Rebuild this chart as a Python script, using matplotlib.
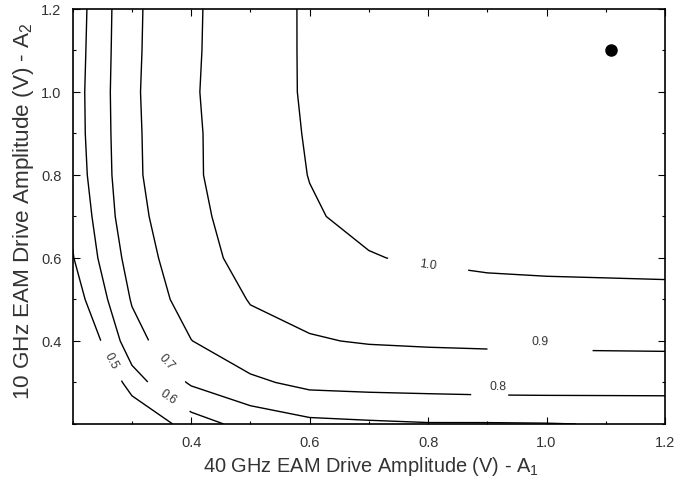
import matplotlib
matplotlib.use('Agg')
import matplotlib.pyplot as plt
from matplotlib.ticker import MultipleLocator

# ---- data ----
a1_grid = [0.2, 0.3, 0.4, 0.5, 0.6, 0.7, 0.8, 0.9, 1.0, 1.1, 1.2]   # 40 GHz drive (V)
a2_grid = [0.2, 0.3, 0.4, 0.5, 0.6, 0.7, 0.8, 0.9, 1.0, 1.1, 1.2]   # 10 GHz drive (V)
# rows follow a2_grid, columns follow a1_grid
quality = [
    [0.100, 0.379, 0.555, 0.637, 0.6765, 0.6867, 0.695, 0.695, 0.697, 0.703, 0.710],
    [0.199, 0.557, 0.713, 0.780, 0.827, 0.8348, 0.8388, 0.845, 0.8463, 0.8446, 0.8424],
    [0.354, 0.6607, 0.798, 0.8772, 0.8938, 0.9057, 0.9108, 0.9132, 0.9151, 0.917, 0.9192],
    [0.4448, 0.708, 0.8504, 0.9034, 0.9282, 0.955, 0.960, 0.966, 0.970, 0.972, 0.975],
    [0.4951, 0.7423, 0.8708, 0.9246, 0.975, 0.9968, 1.0076, 1.019, 1.0236, 1.0258, 1.0271],
    [0.5173, 0.7718, 0.869, 0.9576, 0.9943, 1.0146, 1.028, 1.037, 1.043, 1.046, 1.047],
    [0.5408, 0.7813, 0.8825, 0.9665, 1.0014, 1.025, 1.040, 1.050, 1.056, 1.059, 1.059],
    [0.551, 0.782, 0.888, 0.948, 1.008, 1.030, 1.046, 1.057, 1.064, 1.068, 1.067],
    [0.553, 0.7845, 0.8914, 0.950, 1.0131, 1.033, 1.050, 1.062, 1.070, 1.074, 1.073],
    [0.548, 0.782, 0.888, 0.954, 1.0125, 1.034, 1.052, 1.065, 1.073, 1.078, 1.076],
    [0.5431, 0.7803, 0.8868, 0.9535, 1.0127, 1.034, 1.052, 1.065, 1.073, 1.077, 1.075],
]
levels = [0.5, 0.6, 0.7, 0.8, 0.9, 1.0]
optimum_a1 = [1.109]
optimum_a2 = [1.101]
tick_values = [0.4, 0.6, 0.8, 1.0, 1.2]
tick_labels = ['0.4', '0.6', '0.8', '1.0', '1.2']
xlabel_text = '40 GHz EAM Drive Amplitude (V) - A$_1$'
ylabel_text = '10 GHz EAM Drive Amplitude (V) - A$_2$'

# ---- style ----
plt.rcParams['font.family'] = ['Liberation Sans', 'DejaVu Sans']
plt.rcParams['mathtext.fontset'] = 'custom'
plt.rcParams['mathtext.rm'] = 'Liberation Sans'
plt.rcParams['mathtext.it'] = 'Liberation Sans:italic'
plt.rcParams['mathtext.bf'] = 'Liberation Sans:bold'

fig = plt.figure(figsize=(6.77, 4.89), dpi=100)
ax = fig.add_axes([0.1074, 0.1309, 0.8749, 0.8487])

# label placement per level: (position near line, inline spacing px, text offset in data units)
label_spec = {
    0.5: ((0.264, 0.352), 14, (0.0, 0.0)),
    0.6: ((0.362, 0.266), 17, (0.0, 0.0)),
    0.7: ((0.359, 0.352), 19, (0.0, 0.0)),
    0.8: ((0.904, 0.270), 10, (0.014, 0.021)),
    0.9: ((0.989, 0.379), 44, (0.0, 0.022)),
    1.0: ((0.800, 0.584), 32, (0.0, 0.0)),
}
for lev in levels:
    cs = ax.contour(a1_grid, a2_grid, quality, levels=[lev],
                    colors='black', linewidths=1.0)
    pos, sp, off = label_spec[lev]
    texts = ax.clabel(cs, manual=[pos], inline=True, inline_spacing=sp,
                      fmt='%.1f', fontsize=8.8, colors='#333333')
    for t in texts:
        x, y = t.get_position()
        t.set_position((x + off[0], y + off[1]))

ax.plot(optimum_a1, optimum_a2, 'o', color='black', markersize=8, zorder=5)

ax.set_xlim(0.2, 1.2)
ax.set_ylim(0.2, 1.2)
ax.set_xticks(tick_values)
ax.set_xticklabels(tick_labels)
ax.set_yticks(tick_values)
ax.set_yticklabels(tick_labels)
ax.xaxis.set_minor_locator(MultipleLocator(0.1))
ax.yaxis.set_minor_locator(MultipleLocator(0.1))
ax.tick_params(which='both', direction='in', top=True, right=True, color='black')
ax.tick_params(which='major', length=5, width=0.8, labelsize=10.5, pad=8,
               labelcolor='#333333')
ax.tick_params(which='minor', length=2.5, width=0.8)
for s in ax.spines.values():
    s.set_linewidth(1.2)

ax.set_xlabel(xlabel_text, fontsize=14.4, color='#333333')
ax.xaxis.label.set_verticalalignment('baseline')
ax.xaxis.set_label_coords(0.503, -0.1133)
ax.set_ylabel(ylabel_text, fontsize=16.2, color='#333333')
ax.yaxis.label.set_verticalalignment('baseline')
ax.yaxis.set_label_coords(-0.0738, 0.5157)

fig.savefig('out.png', dpi=100)
